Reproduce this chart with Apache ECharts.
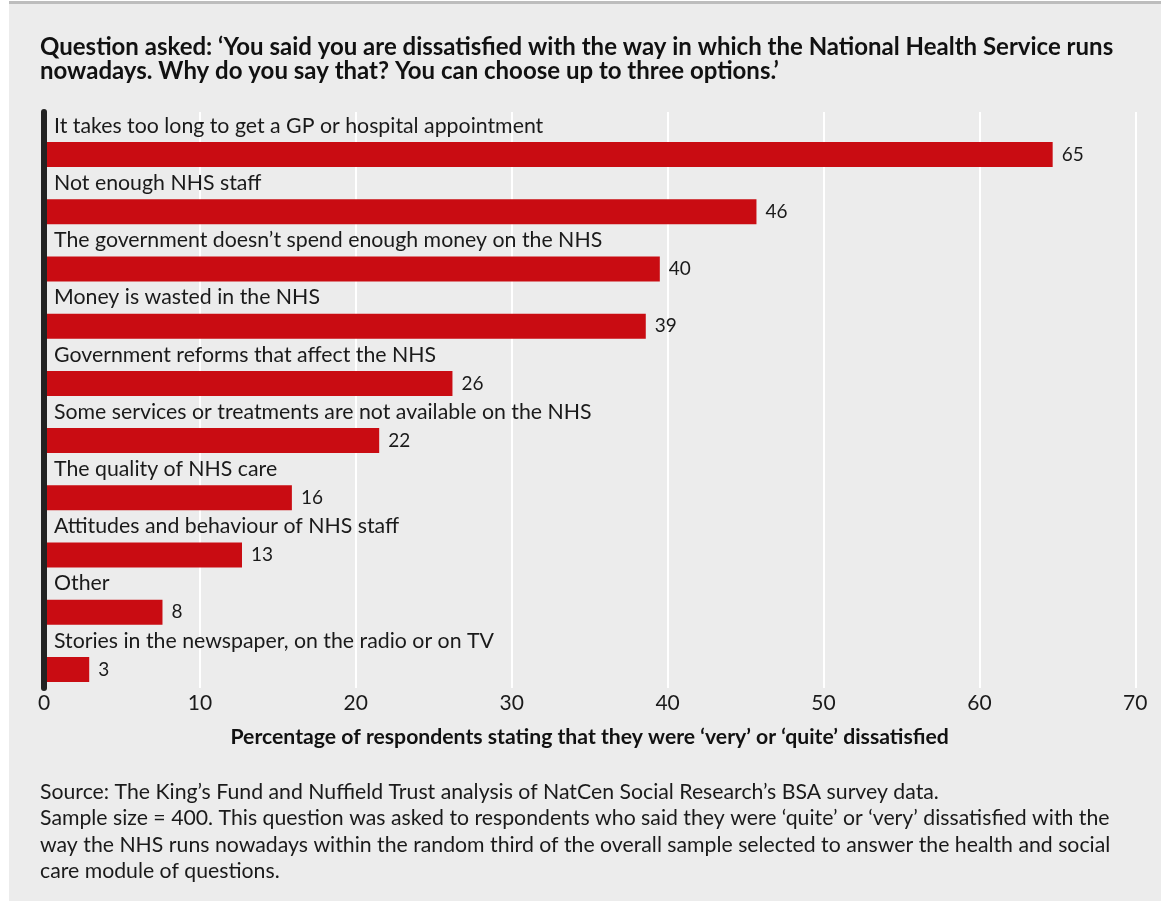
<!DOCTYPE html>
<html>
<head>
<meta charset="utf-8">
<script src="https://cdn.jsdelivr.net/npm/echarts@6/dist/echarts.min.js"></script>
<style>
html,body{margin:0;padding:0;background:#fff;}
#chart{width:1161px;height:903px;}
</style>
</head>
<body>
<div id="chart"></div>
<script>
const titleLines = [
  "Question asked: \u2018You said you are dissatisfied with the way in which the National Health Service runs",
  "nowadays. Why do you say that? You can choose up to three options.\u2019"
];
const categories = [
  "It takes too long to get a GP or hospital appointment",
  "Not enough NHS staff",
  "The government doesn\u2019t spend enough money on the NHS",
  "Money is wasted in the NHS",
  "Government reforms that affect the NHS",
  "Some services or treatments are not available on the NHS",
  "The quality of NHS care",
  "Attitudes and behaviour of NHS staff",
  "Other",
  "Stories in the newspaper, on the radio or on TV"
];
const values = [64.7, 45.7, 39.5, 38.6, 26.2, 21.5, 15.9, 12.7, 7.6, 2.9];
const valueLabels = ["65", "46", "40", "39", "26", "22", "16", "13", "8", "3"];
const xTicks = [0, 10, 20, 30, 40, 50, 60, 70];
const xAxisTitle = "Percentage of respondents stating that they were \u2018very\u2019 or \u2018quite\u2019 dissatisfied";
const sourceLines = [
  "Source: The King\u2019s Fund and Nuffield Trust analysis of NatCen Social Research\u2019s BSA survey data.",
  "Sample size = 400. This question was asked to respondents who said they were \u2018quite\u2019 or \u2018very\u2019 dissatisfied with the",
  "way the NHS runs nowadays within the random third of the overall sample selected to answer the health and social",
  "care module of questions."
];

const FONT = "Lato, 'Noto Sans', sans-serif";
const chart = echarts.init(document.getElementById('chart'), null, {renderer: 'canvas'});
const L = 44, R = 25.7;

chart.setOption({
  backgroundColor: 'transparent',
  animation: false,
  textStyle: {fontFamily: FONT},
  graphic: [
    {type: 'rect', z: -10, silent: true, shape: {x: 9, y: 4, width: 1152, height: 897}, style: {fill: '#ececec'}},
    {type: 'line', z: -9, silent: true, shape: {x1: 9, y1: 2.5, x2: 1161, y2: 2.5}, style: {stroke: '#bdbdbd', lineWidth: 3}},
    {type: 'text', left: 40, top: 35, style: {text: titleLines.join('\n'), font: "bold 24px " + FONT, fill: '#111', lineHeight: 24}},
    {type: 'text', left: 40, top: 779, style: {text: sourceLines.join('\n'), font: "21.25px " + FONT, fill: '#1a1a1a', lineHeight: 26.4}}
  ],
  grid: [
    {left: L, right: R, top: 112, height: 576, containLabel: false},
    {left: L, right: R, top: 126, height: 572, containLabel: false}
  ],
  xAxis: [
    {
      gridIndex: 0, type: 'value', min: xTicks[0], max: xTicks[xTicks.length - 1], interval: 10,
      axisLine: {show: false}, axisTick: {show: false},
      splitLine: {show: true, lineStyle: {color: '#ffffff', width: 2}},
      axisLabel: {fontSize: 21, color: '#1a1a1a', margin: 5, fontFamily: FONT},
      name: xAxisTitle, nameLocation: 'middle', nameGap: 39,
      nameTextStyle: {fontSize: 21.2, fontWeight: 'bold', color: '#111', fontFamily: FONT}
    },
    {
      gridIndex: 1, type: 'value', min: xTicks[0], max: xTicks[xTicks.length - 1], show: false
    }
  ],
  yAxis: [
    {
      gridIndex: 0, type: 'category', data: categories, inverse: true, z: 10,
      axisLine: {show: true, lineStyle: {color: '#222', width: 6}},
      axisTick: {show: false}, axisLabel: {show: false}, splitLine: {show: false}
    },
    {
      gridIndex: 1, type: 'category', data: categories, inverse: true, z: 5,
      axisLine: {show: false}, axisTick: {show: false}, splitLine: {show: false},
      axisLabel: {
        show: true, inside: true, interval: 0, margin: 10,
        fontSize: 21.3, color: '#1a1a1a', fontFamily: FONT,
        lineHeight: 57.2, verticalAlign: 'middle',
        formatter: v => v + '\n '
      }
    }
  ],
  series: [{
    type: 'bar', xAxisIndex: 1, yAxisIndex: 1, data: values,
    barWidth: 25, z: 3,
    itemStyle: {color: '#c90c12'},
    label: {
      show: true, position: 'right', distance: 9, fontSize: 19, color: '#1a1a1a', fontFamily: FONT,
      formatter: p => valueLabels[p.dataIndex]
    }
  }]
});
</script>
</body>
</html>
